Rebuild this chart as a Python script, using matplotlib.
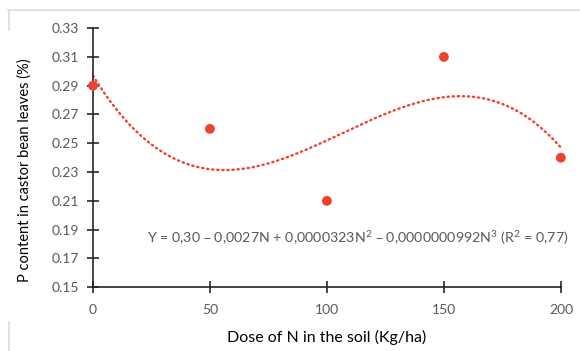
import numpy as np
import matplotlib
matplotlib.use("Agg")
import matplotlib.pyplot as plt
from matplotlib.lines import Line2D

# Nitrogen dose (kg/ha) and leaf P content (%)
dose = [0, 50, 100, 150, 200]
p_content = [0.29, 0.26, 0.21, 0.31, 0.24]
y_ticks = [0.15, 0.17, 0.19, 0.21, 0.23, 0.25, 0.27, 0.29, 0.31, 0.33]
x_ticks = [0, 50, 100, 150, 200]
equation = "Y = 0,30 – 0,0027N + 0,0000323N$^2$ – 0,0000000992N$^3$ (R$^2$ = 0,77)"

plt.rcParams['font.family'] = ['Lato', 'DejaVu Sans']
plt.rcParams['mathtext.default'] = 'regular'

red = '#EE4130'
gray = '#595959'

fig = plt.figure(figsize=(5.8, 3.51), dpi=100)
ax = fig.add_axes([0.1603, 0.1815, 0.8067, 0.7385])

# Cubic trendline fitted to the observations
coef = np.polyfit(dose, p_content, 3)
xs = np.linspace(0, 200, 300)
ax.plot(xs, np.polyval(coef, xs), linestyle=(0, (0.55, 1.6)), color=red,
        linewidth=1.7, dash_capstyle='round', clip_on=False)
ax.scatter(dose, p_content, s=50, color=red, zorder=3, clip_on=False,
           edgecolors='none')

ax.set_xlim(0, 200)
ax.set_ylim(0.15, 0.33)
ax.set_xticks(x_ticks)
ax.set_yticks(y_ticks)
ax.set_yticklabels([f"{v:.2f}" for v in y_ticks])
for s in ('top', 'right'):
    ax.spines[s].set_visible(False)
for s in ('left', 'bottom'):
    ax.spines[s].set_color('#262626')
    ax.spines[s].set_linewidth(1.2)
ax.tick_params(axis='both', direction='inout', length=8, width=1.2,
               color='#262626', labelcolor=gray, labelsize=10)
ax.tick_params(axis='x', pad=8)
ax.tick_params(axis='y', pad=6)

ax.set_xlabel("Dose of N in the soil (Kg/ha)", fontsize=11.5, color='black',
              labelpad=10)
ax.set_ylabel("P content in castor bean leaves (%)", fontsize=10.5,
              color='black')
ax.yaxis.set_label_coords(-0.13, 0.452)

ax.text(0.115, 0.19, equation, transform=ax.transAxes, fontsize=10.3,
        color=gray, ha='left', va='center')

# light frame fragments around the panel
fc = '#D9D9D9'
fig.add_artist(Line2D([8/580, 1], [1 - 10/351, 1 - 10/351], color=fc, lw=1.2))
fig.add_artist(Line2D([9/580, 9/580], [1 - 10/351, 1 - 30/351], color=fc, lw=1.2))
fig.add_artist(Line2D([9/580, 9/580], [1 - 322/351, 0], color=fc, lw=1.2))

fig.savefig("out.png", dpi=100, facecolor='white')
